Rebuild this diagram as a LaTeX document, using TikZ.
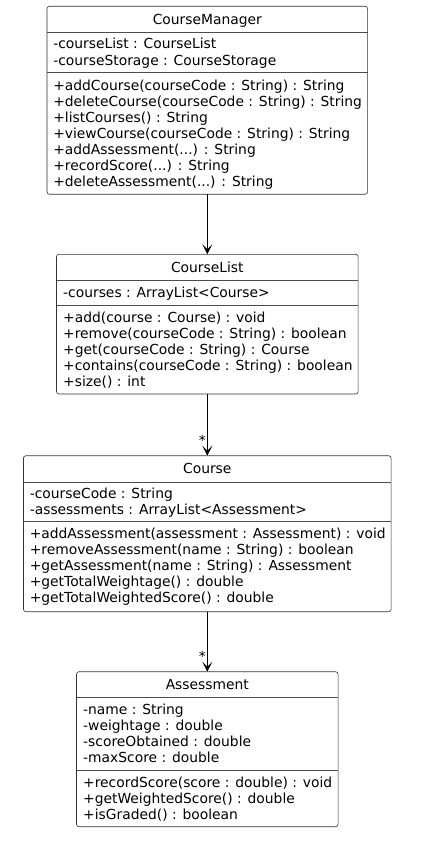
\documentclass[tikz,border=0pt]{standalone}
\usepackage{fontspec}
\setmainfont{DejaVu Sans}
\usetikzlibrary{arrows.meta}
\tikzset{
  classbox/.style={draw=black!80, line width=0.6pt, fill=white, rounded corners=2.5pt, inner sep=0pt, outer sep=0pt, anchor=north},
  sepline/.style={draw=black!70, line width=0.6pt},
  txt/.style={inner sep=0pt, outer sep=0pt, font=\fontsize{13.85}{16}\selectfont, text=black},
  assoc/.style={draw=black, line width=0.9pt, -{Stealth[length=10pt,width=10pt,inset=5pt]}},
  mult/.style={inner sep=0pt, outer sep=0pt, font=\fontsize{13.85}{16}\selectfont, anchor=base east}
}
\begin{document}
\begin{tikzpicture}[x=1pt,y=-1pt]
\useasboundingbox[fill=white] (0,0) rectangle (424,850);

% ---------- CourseManager ----------
\node[classbox, minimum width=320.6pt, minimum height=188pt] (cm) at (207.3,6.3) {};
\draw[sepline] (46.7,32.3) -- (367.9,32.3);
\draw[sepline] (46.7,72.7) -- (367.9,72.7);
\node[txt, anchor=base] (cmt) at (207.3,24.3) {CourseManager};
\node[txt, anchor=base west] (cma1) at (53.3,49) {-courseList : CourseList};
\node[txt, anchor=base west] (cma2) at (53.3,65.2) {-courseStorage : CourseStorage};
\node[txt, anchor=base west] (cmm1) at (53.3,90.3) {+addCourse(courseCode : String) : String};
\node[txt, anchor=base west] (cmm2) at (53.3,106.4) {+deleteCourse(courseCode : String) : String};
\node[txt, anchor=base west] (cmm3) at (53.3,122.5) {+listCourses() : String};
\node[txt, anchor=base west] (cmm4) at (53.3,138.6) {+viewCourse(courseCode : String) : String};
\node[txt, anchor=base west] (cmm5) at (53.3,154.7) {+addAssessment(...) : String};
\node[txt, anchor=base west] (cmm6) at (53.3,170.8) {+recordScore(...) : String};
\node[txt, anchor=base west] (cmm7) at (53.3,186.9) {+deleteAssessment(...) : String};

% ---------- CourseList ----------
\node[classbox, minimum width=301.6pt, minimum height=139.7pt] (cl) at (207.3,254.3) {};
\draw[sepline] (56.5,280.7) -- (358.1,280.7);
\draw[sepline] (56.5,305.7) -- (358.1,305.7);
\node[txt, anchor=base] (clt) at (207.3,272.3) {CourseList};
\node[txt, anchor=base west] (cla1) at (63.2,297.5) {-courses : ArrayList<Course>};
\node[txt, anchor=base west] (clm1) at (63.2,322.5) {+add(course : Course) : void};
\node[txt, anchor=base west] (clm2) at (63.2,338.6) {+remove(courseCode : String) : boolean};
\node[txt, anchor=base west] (clm3) at (63.2,354.7) {+get(courseCode : String) : Course};
\node[txt, anchor=base west] (clm4) at (63.2,370.8) {+contains(courseCode : String) : boolean};
\node[txt, anchor=base west] (clm5) at (63.2,386.9) {+size() : int};

% ---------- Course ----------
\node[classbox, minimum width=367.7pt, minimum height=156pt] (co) at (207.3,455.7) {};
\draw[sepline] (23.45,482) -- (391.15,482);
\draw[sepline] (23.45,521) -- (391.15,521);
\node[txt, anchor=base] (cot) at (207.3,473.7) {Course};
\node[txt, anchor=base west] (coa1) at (29.8,498.5) {-courseCode : String};
\node[txt, anchor=base west] (coa2) at (29.8,514.6) {-assessments : ArrayList<Assessment>};
\node[txt, anchor=base west] (com1) at (29.8,538.5) {+addAssessment(assessment : Assessment) : void};
\node[txt, anchor=base west] (com2) at (29.8,554.6) {+removeAssessment(name : String) : boolean};
\node[txt, anchor=base west] (com3) at (29.8,570.7) {+getAssessment(name : String) : Assessment};
\node[txt, anchor=base west] (com4) at (29.8,586.8) {+getTotalWeightage() : double};
\node[txt, anchor=base west] (com5) at (29.8,602.9) {+getTotalWeightedScore() : double};

% ---------- Assessment ----------
\node[classbox, minimum width=261.6pt, minimum height=155pt] (as) at (207.3,671.7) {};
\draw[sepline] (76.5,697.3) -- (338.1,697.3);
\draw[sepline] (76.5,770) -- (338.1,770);
\node[txt, anchor=base] (ast) at (207.3,689.7) {Assessment};
\node[txt, anchor=base west] (asa1) at (83.2,714.3) {-name : String};
\node[txt, anchor=base west] (asa2) at (83.2,730.4) {-weightage : double};
\node[txt, anchor=base west] (asa3) at (83.2,746.5) {-scoreObtained : double};
\node[txt, anchor=base west] (asa4) at (83.2,762.6) {-maxScore : double};
\node[txt, anchor=base west] (asm1) at (83.2,787.5) {+recordScore(score : double) : void};
\node[txt, anchor=base west] (asm2) at (83.2,803.6) {+getWeightedScore() : double};
\node[txt, anchor=base west] (asm3) at (83.2,819.7) {+isGraded() : boolean};

% ---------- Associations ----------
\draw[assoc] (cm.south) -- (cl.north);
\draw[assoc] (cl.south) -- (co.north) node[mult, at end, xshift=-1.5pt, yshift=10.7pt] (m1) {*};
\draw[assoc] (co.south) -- (as.north) node[mult, at end, xshift=-1.5pt, yshift=10.7pt] (m2) {*};
\end{tikzpicture}
\end{document}
